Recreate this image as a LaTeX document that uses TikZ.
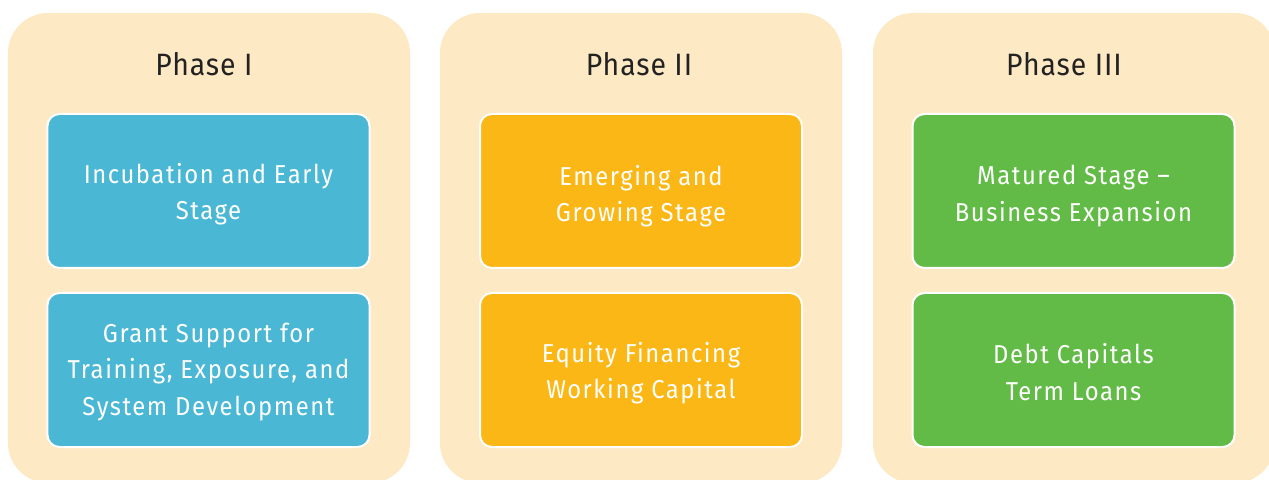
\documentclass[tikz,border=0pt]{standalone}
\usepackage{fontspec}
\setmainfont{Fira Sans}[FakeStretch=0.92,LetterSpace=6]
\newfontfamily\titlefont{Fira Sans}[FakeStretch=0.92,LetterSpace=3]
\definecolor{beige}{HTML}{FEE9C5}
\definecolor{cblue}{HTML}{4AB7D5}
\definecolor{corange}{HTML}{FBB715}
\definecolor{cgreen}{HTML}{63BB47}
\definecolor{titlec}{HTML}{222222}
\tikzset{
  panel/.style={fill=beige, rounded corners=40bp, minimum width=402bp, minimum height=470bp, inner sep=0pt},
  card/.style={draw=white, line width=2bp, rounded corners=12bp, minimum width=322bp, minimum height=154bp, inner sep=0pt},
  cardtext/.style={align=center, text=white, inner sep=0pt, font=\fontsize{26}{36.5}\selectfont},
  title/.style={text=titlec, font=\titlefont\fontsize{31}{36}\selectfont, inner sep=0pt}
}
\begin{document}
\begin{tikzpicture}[x=1bp,y=-1bp]
\useasboundingbox (0,0) rectangle (1269,480);
\clip (0,0) rectangle (1269,480);
\node[panel] (pan1) at (209,248) {};
\node[panel] (pan2) at (641,248) {};
\node[panel] (pan3) at (1074,248) {};
\node[title] (t1) at (204,64) {Phase I};
\node[title] (t2) at (639,64) {Phase II};
\node[title] (t3) at (1064,64) {Phase III};
\node[card, fill=cblue] (a1) at (208.5,191) {};
\node[card, fill=cblue] (a2) at (208.5,370) {};
\node[card, fill=corange] (b1) at (641,191) {};
\node[card, fill=corange] (b2) at (641,370) {};
\node[card, fill=cgreen] (c1) at (1073.5,191) {};
\node[card, fill=cgreen] (c2) at (1073.5,370) {};
\node[cardtext] (a1t) at ([yshift=-3bp]a1.center) {Incubation and Early\\Stage};
\node[cardtext] (a2t) at ([yshift=-2bp]a2.center) {Grant Support for\\Training, Exposure, and\\System Development};
\node[cardtext] (b1t) at ([yshift=-5bp]b1.center) {Emerging and\\Growing Stage};
\node[cardtext] (b2t) at ([yshift=-3bp]b2.center) {Equity Financing\\Working Capital};
\node[cardtext] (c1t) at ([yshift=-5bp]c1.center) {Matured Stage --\\Business Expansion};
\node[cardtext] (c2t) at ([yshift=-2bp]c2.center) {Debt Capitals\\Term Loans};
\end{tikzpicture}
\end{document}
